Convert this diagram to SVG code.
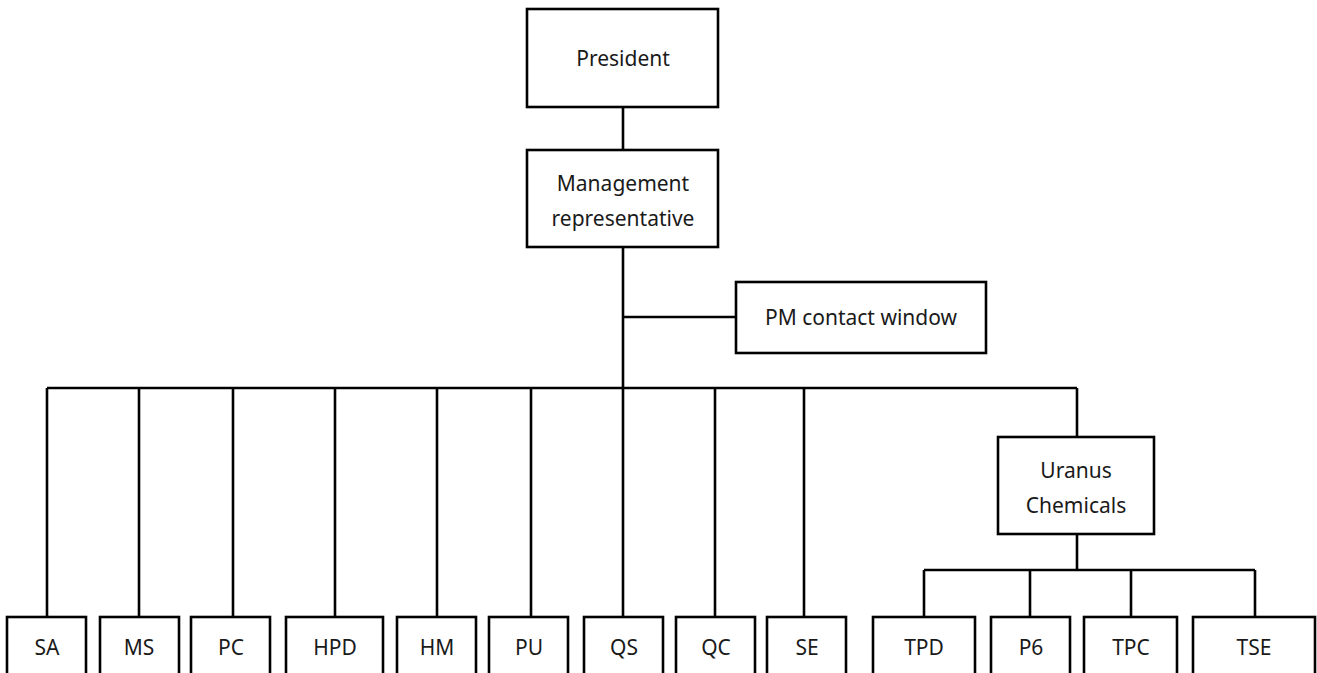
<svg xmlns="http://www.w3.org/2000/svg" width="1317" height="673" viewBox="0 0 1317 673">
<style>
.box{fill:#fff;stroke:#000;stroke-width:2.6}
.t{font-family:"Noto Sans","Open Sans",sans-serif;font-size:21px;fill:#1a1a1a;text-anchor:middle}
.c{fill:none;stroke:#000;stroke-width:2.6}
</style>
<rect width="1317" height="673" fill="#fff"/>
<g id="connectors">
<path class="c" d="M623 107V150M623 247V388M623 317H736M47 388H1077M47 388V617M139 388V617M233 388V617M335 388V617M437 388V617M531 388V617M623 388V617M715 388V617M804 388V617M1077 388V437M1077 534V570M924 570H1255M924 570V617M1030 570V617M1131 570V617M1255 570V617"/>
</g>
<g id="president"><rect class="box" x="527" y="9" width="191" height="98"/><text class="t" x="623" y="66">President</text></g>
<g id="mgmt"><rect class="box" x="527" y="150" width="191" height="97"/><text class="t" x="623" y="191">Management</text><text class="t" x="623" y="226">representative</text></g>
<g id="pm"><rect class="box" x="736" y="282" width="250" height="71"/><text class="t" x="861" y="325">PM contact window</text></g>
<g id="uranus"><rect class="box" x="998" y="437" width="156" height="97"/><text class="t" x="1076" y="478">Uranus</text><text class="t" x="1076" y="513">Chemicals</text></g>
<g id="sa"><rect class="box" x="7" y="617" width="79" height="60"/><text class="t" x="47" y="655">SA</text></g>
<g id="ms"><rect class="box" x="100" y="617" width="79" height="60"/><text class="t" x="139" y="655">MS</text></g>
<g id="pc"><rect class="box" x="191" y="617" width="79" height="60"/><text class="t" x="231" y="655">PC</text></g>
<g id="hpd"><rect class="box" x="286" y="617" width="97" height="60"/><text class="t" x="335" y="655">HPD</text></g>
<g id="hm"><rect class="box" x="397" y="617" width="79" height="60"/><text class="t" x="437" y="655">HM</text></g>
<g id="pu"><rect class="box" x="489" y="617" width="79" height="60"/><text class="t" x="529" y="655">PU</text></g>
<g id="qs"><rect class="box" x="584" y="617" width="79" height="60"/><text class="t" x="624" y="655">QS</text></g>
<g id="qc"><rect class="box" x="676" y="617" width="79" height="60"/><text class="t" x="716" y="655">QC</text></g>
<g id="se"><rect class="box" x="767" y="617" width="79" height="60"/><text class="t" x="807" y="655">SE</text></g>
<g id="tpd"><rect class="box" x="873" y="617" width="102" height="60"/><text class="t" x="924" y="655">TPD</text></g>
<g id="p6"><rect class="box" x="991" y="617" width="79" height="60"/><text class="t" x="1031" y="655">P6</text></g>
<g id="tpc"><rect class="box" x="1084" y="617" width="93" height="60"/><text class="t" x="1131" y="655">TPC</text></g>
<g id="tse"><rect class="box" x="1193" y="617" width="122" height="60"/><text class="t" x="1254" y="655">TSE</text></g>
</svg>
